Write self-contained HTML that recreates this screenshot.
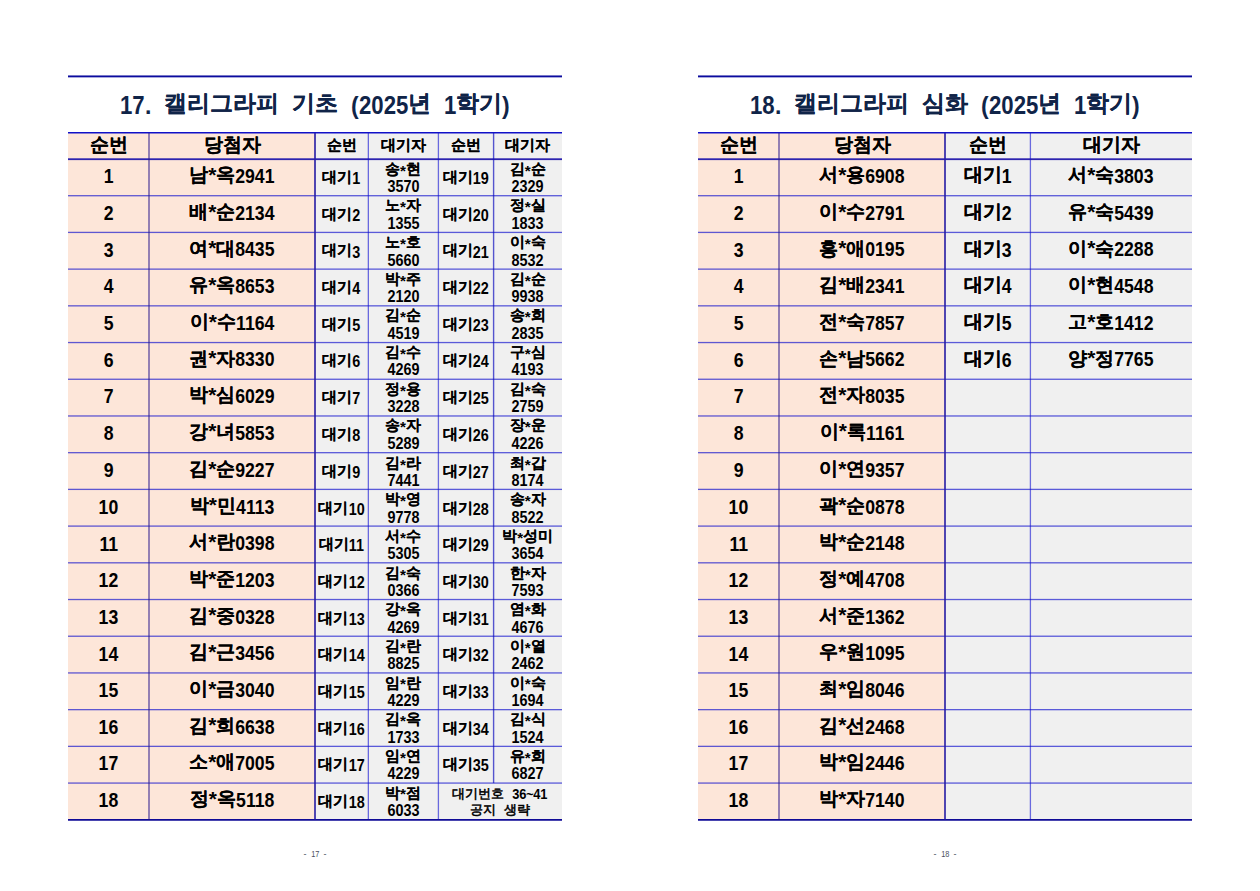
<!DOCTYPE html>
<html lang="ko"><head><meta charset="utf-8"><title>17-18</title>
<style>
html,body{margin:0;padding:0;background:#fff;}
body{width:1260px;height:891px;position:relative;overflow:hidden;font-family:"Liberation Sans",sans-serif;color:#000;}
div{position:absolute;}
.t{height:40px;display:flex;align-items:center;justify-content:center;white-space:nowrap;font-weight:bold;line-height:1;}
.t span{display:inline-block;}
i.d{display:inline-block;font-style:normal;}
i.a{font-style:normal;position:relative;top:-0.06em;font-size:1.1em;} .s i.a{top:-0.01em;font-size:1.05em;}
b.k{font-weight:bold;position:relative;-webkit-text-stroke:0.1px currentColor;}
.title{color:#102448;word-spacing:6.5px;}
.m{font-size:19px;} .m i.d{font-size:1.08em;transform:scaleX(0.86);} .m b.k{top:-0.1em;}
.h1{font-size:19px;} .h1 i.d{font-size:1.08em;transform:scaleX(0.86);} .h1 b.k{top:-0.1em;}
.h2{font-size:15px;} .h2 i.d{font-size:1.08em;transform:scaleX(0.86);} .h2 b.k{top:-0.1em;}
.s{font-size:14.5px;} .s i.d{font-size:1.08em;transform:scaleX(0.92);} .s b.k{top:-0.14em;}
.n{font-size:13px;} .n i.d{font-size:1.15em;transform:scaleX(0.86);} .n b.k{top:-0.08em;}
.title{font-size:23px;} .title i.d{font-size:1.12em;transform:scaleX(0.86);} .title b.k{top:-0.1em;}
.pn{font-size:9px;} .pn i.d{font-size:1.05em;transform:scaleX(0.78);} .pn b.k{top:-0.0em;}
.t.pn{font-weight:normal;color:#4a5060;word-spacing:2px;}
.n{word-spacing:4px;font-weight:bold;} .n b.k{font-weight:normal;-webkit-text-stroke:0.55px currentColor;}
</style></head><body>
<div style="left:68.00px;top:132.00px;width:247.00px;height:687.50px;background:#fde6d9;"></div>
<div style="left:315.00px;top:132.00px;width:247.00px;height:687.50px;background:#f0f0f0;"></div>
<div style="left:698.00px;top:132.00px;width:247.00px;height:687.50px;background:#fde6d9;"></div>
<div style="left:945.00px;top:132.00px;width:247.00px;height:687.50px;background:#f0f0f0;"></div>
<svg width="1260" height="891" viewBox="0 0 1260 891" style="position:absolute;left:0;top:0"><rect x="68.00" y="75.45" width="494.00" height="1.90" fill="rgb(12,12,158)"/><rect x="68.00" y="132.00" width="494.00" height="1.50" fill="rgb(16,16,200)"/><rect x="68.00" y="158.30" width="494.00" height="1.80" fill="rgb(45,35,175)"/><rect x="68.00" y="195.06" width="494.00" height="1.30" fill="rgba(12,12,205,0.66)"/><rect x="68.00" y="231.77" width="494.00" height="1.30" fill="rgba(12,12,205,0.66)"/><rect x="68.00" y="268.48" width="494.00" height="1.30" fill="rgba(12,12,205,0.66)"/><rect x="68.00" y="305.19" width="494.00" height="1.30" fill="rgba(12,12,205,0.66)"/><rect x="68.00" y="341.90" width="494.00" height="1.30" fill="rgba(12,12,205,0.66)"/><rect x="68.00" y="378.61" width="494.00" height="1.30" fill="rgba(12,12,205,0.66)"/><rect x="68.00" y="415.32" width="494.00" height="1.30" fill="rgba(12,12,205,0.66)"/><rect x="68.00" y="452.03" width="494.00" height="1.30" fill="rgba(12,12,205,0.66)"/><rect x="68.00" y="488.74" width="494.00" height="1.30" fill="rgba(12,12,205,0.66)"/><rect x="68.00" y="525.45" width="494.00" height="1.30" fill="rgba(12,12,205,0.66)"/><rect x="68.00" y="562.16" width="494.00" height="1.30" fill="rgba(12,12,205,0.66)"/><rect x="68.00" y="598.87" width="494.00" height="1.30" fill="rgba(12,12,205,0.66)"/><rect x="68.00" y="635.58" width="494.00" height="1.30" fill="rgba(12,12,205,0.66)"/><rect x="68.00" y="672.29" width="494.00" height="1.30" fill="rgba(12,12,205,0.66)"/><rect x="68.00" y="709.00" width="494.00" height="1.30" fill="rgba(12,12,205,0.66)"/><rect x="68.00" y="745.71" width="494.00" height="1.30" fill="rgba(12,12,205,0.66)"/><rect x="68.00" y="782.42" width="494.00" height="1.30" fill="rgba(12,12,205,0.66)"/><rect x="68.00" y="819.00" width="494.00" height="1.75" fill="rgb(15,10,150)"/><rect x="148.20" y="133.00" width="1.60" height="686.50" fill="rgba(40,25,140,0.62)"/><rect x="314.05" y="133.00" width="1.90" height="686.50" fill="rgba(40,30,165,0.85)"/><rect x="367.70" y="133.00" width="1.30" height="686.50" fill="rgba(15,15,210,0.6)"/><rect x="437.75" y="133.00" width="1.30" height="686.50" fill="rgba(15,15,210,0.6)"/><rect x="492.90" y="133.00" width="1.40" height="650.07" fill="rgba(10,10,190,0.68)"/><rect x="698.00" y="75.45" width="494.00" height="1.90" fill="rgb(12,12,158)"/><rect x="698.00" y="132.00" width="494.00" height="1.50" fill="rgb(16,16,200)"/><rect x="698.00" y="158.30" width="494.00" height="1.80" fill="rgb(45,35,175)"/><rect x="698.00" y="195.06" width="494.00" height="1.30" fill="rgba(12,12,205,0.66)"/><rect x="698.00" y="231.77" width="494.00" height="1.30" fill="rgba(12,12,205,0.66)"/><rect x="698.00" y="268.48" width="494.00" height="1.30" fill="rgba(12,12,205,0.66)"/><rect x="698.00" y="305.19" width="494.00" height="1.30" fill="rgba(12,12,205,0.66)"/><rect x="698.00" y="341.90" width="494.00" height="1.30" fill="rgba(12,12,205,0.66)"/><rect x="698.00" y="378.61" width="494.00" height="1.30" fill="rgba(12,12,205,0.66)"/><rect x="698.00" y="415.32" width="494.00" height="1.30" fill="rgba(12,12,205,0.66)"/><rect x="698.00" y="452.03" width="494.00" height="1.30" fill="rgba(12,12,205,0.66)"/><rect x="698.00" y="488.74" width="494.00" height="1.30" fill="rgba(12,12,205,0.66)"/><rect x="698.00" y="525.45" width="494.00" height="1.30" fill="rgba(12,12,205,0.66)"/><rect x="698.00" y="562.16" width="494.00" height="1.30" fill="rgba(12,12,205,0.66)"/><rect x="698.00" y="598.87" width="494.00" height="1.30" fill="rgba(12,12,205,0.66)"/><rect x="698.00" y="635.58" width="494.00" height="1.30" fill="rgba(12,12,205,0.66)"/><rect x="698.00" y="672.29" width="494.00" height="1.30" fill="rgba(12,12,205,0.66)"/><rect x="698.00" y="709.00" width="494.00" height="1.30" fill="rgba(12,12,205,0.66)"/><rect x="698.00" y="745.71" width="494.00" height="1.30" fill="rgba(12,12,205,0.66)"/><rect x="698.00" y="782.42" width="494.00" height="1.30" fill="rgba(12,12,205,0.66)"/><rect x="698.00" y="819.00" width="494.00" height="1.75" fill="rgb(15,10,150)"/><rect x="778.20" y="133.00" width="1.60" height="686.50" fill="rgba(40,25,140,0.62)"/><rect x="944.05" y="133.00" width="1.90" height="686.50" fill="rgba(40,30,165,0.85)"/><rect x="1029.75" y="133.00" width="1.30" height="686.50" fill="rgba(15,15,210,0.6)"/></svg>
<div class="t h1" style="left:68.00px;width:81.00px;top:126.25px;"><span><b class="k">순번</b></span></div>
<div class="t h1" style="left:149.00px;width:166.00px;top:126.25px;"><span><b class="k">당첨자</b></span></div>
<div class="t h2" style="left:315.00px;width:53.00px;top:126.25px;"><span><b class="k">순번</b></span></div>
<div class="t h2" style="left:368.00px;width:70.00px;top:126.25px;"><span><b class="k">대기자</b></span></div>
<div class="t h2" style="left:438.00px;width:55.50px;top:126.25px;"><span><b class="k">순번</b></span></div>
<div class="t h2" style="left:493.50px;width:68.50px;top:126.25px;"><span><b class="k">대기자</b></span></div>
<div class="t h1" style="left:698.00px;width:81.00px;top:126.25px;"><span><b class="k">순번</b></span></div>
<div class="t h1" style="left:779.00px;width:166.00px;top:126.25px;"><span><b class="k">당첨자</b></span></div>
<div class="t h1" style="left:945.00px;width:85.00px;top:126.25px;"><span><b class="k">순번</b></span></div>
<div class="t h1" style="left:1030.00px;width:162.00px;top:126.25px;"><span><b class="k">대기자</b></span></div>
<div class="t m" style="left:68.00px;width:81.00px;top:156.62px;"><span><i class="d" style="margin:0 -0.039em">1</i></span></div>
<div class="t m" style="left:149.00px;width:166.00px;top:156.62px;"><span><b class="k">남</b><i class="a">*</i><b class="k">옥</b><i class="d" style="margin:0 -0.156em">2941</i></span></div>
<div class="t s" style="left:315.00px;width:53.00px;top:159.03px;"><span><b class="k">대기</b><i class="d" style="margin:0 -0.022em">1</i></span></div>
<div class="t s" style="left:368.00px;width:70.00px;top:150.57px;"><span><b class="k">송</b><i class="a">*</i><b class="k">현</b></span></div>
<div class="t s" style="left:368.00px;width:70.00px;top:167.07px;"><span><i class="d" style="margin:0 -0.089em">3570</i></span></div>
<div class="t s" style="left:438.00px;width:55.50px;top:159.03px;"><span><b class="k">대기</b><i class="d" style="margin:0 -0.044em">19</i></span></div>
<div class="t s" style="left:493.50px;width:68.50px;top:150.57px;"><span><b class="k">김</b><i class="a">*</i><b class="k">순</b></span></div>
<div class="t s" style="left:493.50px;width:68.50px;top:167.07px;"><span><i class="d" style="margin:0 -0.089em">2329</i></span></div>
<div class="t m" style="left:68.00px;width:81.00px;top:193.28px;"><span><i class="d" style="margin:0 -0.039em">2</i></span></div>
<div class="t m" style="left:149.00px;width:166.00px;top:193.28px;"><span><b class="k">배</b><i class="a">*</i><b class="k">순</b><i class="d" style="margin:0 -0.156em">2134</i></span></div>
<div class="t s" style="left:315.00px;width:53.00px;top:195.68px;"><span><b class="k">대기</b><i class="d" style="margin:0 -0.022em">2</i></span></div>
<div class="t s" style="left:368.00px;width:70.00px;top:187.22px;"><span><b class="k">노</b><i class="a">*</i><b class="k">자</b></span></div>
<div class="t s" style="left:368.00px;width:70.00px;top:203.72px;"><span><i class="d" style="margin:0 -0.089em">1355</i></span></div>
<div class="t s" style="left:438.00px;width:55.50px;top:195.68px;"><span><b class="k">대기</b><i class="d" style="margin:0 -0.044em">20</i></span></div>
<div class="t s" style="left:493.50px;width:68.50px;top:187.22px;"><span><b class="k">정</b><i class="a">*</i><b class="k">실</b></span></div>
<div class="t s" style="left:493.50px;width:68.50px;top:203.72px;"><span><i class="d" style="margin:0 -0.089em">1833</i></span></div>
<div class="t m" style="left:68.00px;width:81.00px;top:229.93px;"><span><i class="d" style="margin:0 -0.039em">3</i></span></div>
<div class="t m" style="left:149.00px;width:166.00px;top:229.93px;"><span><b class="k">여</b><i class="a">*</i><b class="k">대</b><i class="d" style="margin:0 -0.156em">8435</i></span></div>
<div class="t s" style="left:315.00px;width:53.00px;top:232.33px;"><span><b class="k">대기</b><i class="d" style="margin:0 -0.022em">3</i></span></div>
<div class="t s" style="left:368.00px;width:70.00px;top:223.88px;"><span><b class="k">노</b><i class="a">*</i><b class="k">호</b></span></div>
<div class="t s" style="left:368.00px;width:70.00px;top:240.38px;"><span><i class="d" style="margin:0 -0.089em">5660</i></span></div>
<div class="t s" style="left:438.00px;width:55.50px;top:232.33px;"><span><b class="k">대기</b><i class="d" style="margin:0 -0.044em">21</i></span></div>
<div class="t s" style="left:493.50px;width:68.50px;top:223.88px;"><span><b class="k">이</b><i class="a">*</i><b class="k">숙</b></span></div>
<div class="t s" style="left:493.50px;width:68.50px;top:240.38px;"><span><i class="d" style="margin:0 -0.089em">8532</i></span></div>
<div class="t m" style="left:68.00px;width:81.00px;top:266.57px;"><span><i class="d" style="margin:0 -0.039em">4</i></span></div>
<div class="t m" style="left:149.00px;width:166.00px;top:266.57px;"><span><b class="k">유</b><i class="a">*</i><b class="k">옥</b><i class="d" style="margin:0 -0.156em">8653</i></span></div>
<div class="t s" style="left:315.00px;width:53.00px;top:268.97px;"><span><b class="k">대기</b><i class="d" style="margin:0 -0.022em">4</i></span></div>
<div class="t s" style="left:368.00px;width:70.00px;top:260.52px;"><span><b class="k">박</b><i class="a">*</i><b class="k">주</b></span></div>
<div class="t s" style="left:368.00px;width:70.00px;top:277.02px;"><span><i class="d" style="margin:0 -0.089em">2120</i></span></div>
<div class="t s" style="left:438.00px;width:55.50px;top:268.97px;"><span><b class="k">대기</b><i class="d" style="margin:0 -0.044em">22</i></span></div>
<div class="t s" style="left:493.50px;width:68.50px;top:260.52px;"><span><b class="k">김</b><i class="a">*</i><b class="k">순</b></span></div>
<div class="t s" style="left:493.50px;width:68.50px;top:277.02px;"><span><i class="d" style="margin:0 -0.089em">9938</i></span></div>
<div class="t m" style="left:68.00px;width:81.00px;top:303.23px;"><span><i class="d" style="margin:0 -0.039em">5</i></span></div>
<div class="t m" style="left:149.00px;width:166.00px;top:303.23px;"><span><b class="k">이</b><i class="a">*</i><b class="k">수</b><i class="d" style="margin:0 -0.156em">1164</i></span></div>
<div class="t s" style="left:315.00px;width:53.00px;top:305.62px;"><span><b class="k">대기</b><i class="d" style="margin:0 -0.022em">5</i></span></div>
<div class="t s" style="left:368.00px;width:70.00px;top:297.18px;"><span><b class="k">김</b><i class="a">*</i><b class="k">순</b></span></div>
<div class="t s" style="left:368.00px;width:70.00px;top:313.68px;"><span><i class="d" style="margin:0 -0.089em">4519</i></span></div>
<div class="t s" style="left:438.00px;width:55.50px;top:305.62px;"><span><b class="k">대기</b><i class="d" style="margin:0 -0.044em">23</i></span></div>
<div class="t s" style="left:493.50px;width:68.50px;top:297.18px;"><span><b class="k">송</b><i class="a">*</i><b class="k">희</b></span></div>
<div class="t s" style="left:493.50px;width:68.50px;top:313.68px;"><span><i class="d" style="margin:0 -0.089em">2835</i></span></div>
<div class="t m" style="left:68.00px;width:81.00px;top:339.88px;"><span><i class="d" style="margin:0 -0.039em">6</i></span></div>
<div class="t m" style="left:149.00px;width:166.00px;top:339.88px;"><span><b class="k">권</b><i class="a">*</i><b class="k">자</b><i class="d" style="margin:0 -0.156em">8330</i></span></div>
<div class="t s" style="left:315.00px;width:53.00px;top:342.27px;"><span><b class="k">대기</b><i class="d" style="margin:0 -0.022em">6</i></span></div>
<div class="t s" style="left:368.00px;width:70.00px;top:333.82px;"><span><b class="k">김</b><i class="a">*</i><b class="k">수</b></span></div>
<div class="t s" style="left:368.00px;width:70.00px;top:350.32px;"><span><i class="d" style="margin:0 -0.089em">4269</i></span></div>
<div class="t s" style="left:438.00px;width:55.50px;top:342.27px;"><span><b class="k">대기</b><i class="d" style="margin:0 -0.044em">24</i></span></div>
<div class="t s" style="left:493.50px;width:68.50px;top:333.82px;"><span><b class="k">구</b><i class="a">*</i><b class="k">심</b></span></div>
<div class="t s" style="left:493.50px;width:68.50px;top:350.32px;"><span><i class="d" style="margin:0 -0.089em">4193</i></span></div>
<div class="t m" style="left:68.00px;width:81.00px;top:376.52px;"><span><i class="d" style="margin:0 -0.039em">7</i></span></div>
<div class="t m" style="left:149.00px;width:166.00px;top:376.52px;"><span><b class="k">박</b><i class="a">*</i><b class="k">심</b><i class="d" style="margin:0 -0.156em">6029</i></span></div>
<div class="t s" style="left:315.00px;width:53.00px;top:378.92px;"><span><b class="k">대기</b><i class="d" style="margin:0 -0.022em">7</i></span></div>
<div class="t s" style="left:368.00px;width:70.00px;top:370.47px;"><span><b class="k">정</b><i class="a">*</i><b class="k">용</b></span></div>
<div class="t s" style="left:368.00px;width:70.00px;top:386.97px;"><span><i class="d" style="margin:0 -0.089em">3228</i></span></div>
<div class="t s" style="left:438.00px;width:55.50px;top:378.92px;"><span><b class="k">대기</b><i class="d" style="margin:0 -0.044em">25</i></span></div>
<div class="t s" style="left:493.50px;width:68.50px;top:370.47px;"><span><b class="k">김</b><i class="a">*</i><b class="k">숙</b></span></div>
<div class="t s" style="left:493.50px;width:68.50px;top:386.97px;"><span><i class="d" style="margin:0 -0.089em">2759</i></span></div>
<div class="t m" style="left:68.00px;width:81.00px;top:413.18px;"><span><i class="d" style="margin:0 -0.039em">8</i></span></div>
<div class="t m" style="left:149.00px;width:166.00px;top:413.18px;"><span><b class="k">강</b><i class="a">*</i><b class="k">녀</b><i class="d" style="margin:0 -0.156em">5853</i></span></div>
<div class="t s" style="left:315.00px;width:53.00px;top:415.57px;"><span><b class="k">대기</b><i class="d" style="margin:0 -0.022em">8</i></span></div>
<div class="t s" style="left:368.00px;width:70.00px;top:407.12px;"><span><b class="k">송</b><i class="a">*</i><b class="k">자</b></span></div>
<div class="t s" style="left:368.00px;width:70.00px;top:423.62px;"><span><i class="d" style="margin:0 -0.089em">5289</i></span></div>
<div class="t s" style="left:438.00px;width:55.50px;top:415.57px;"><span><b class="k">대기</b><i class="d" style="margin:0 -0.044em">26</i></span></div>
<div class="t s" style="left:493.50px;width:68.50px;top:407.12px;"><span><b class="k">장</b><i class="a">*</i><b class="k">운</b></span></div>
<div class="t s" style="left:493.50px;width:68.50px;top:423.62px;"><span><i class="d" style="margin:0 -0.089em">4226</i></span></div>
<div class="t m" style="left:68.00px;width:81.00px;top:450.52px;"><span><i class="d" style="margin:0 -0.039em">9</i></span></div>
<div class="t m" style="left:149.00px;width:166.00px;top:450.52px;"><span><b class="k">김</b><i class="a">*</i><b class="k">순</b><i class="d" style="margin:0 -0.156em">9227</i></span></div>
<div class="t s" style="left:315.00px;width:53.00px;top:452.92px;"><span><b class="k">대기</b><i class="d" style="margin:0 -0.022em">9</i></span></div>
<div class="t s" style="left:368.00px;width:70.00px;top:444.47px;"><span><b class="k">김</b><i class="a">*</i><b class="k">라</b></span></div>
<div class="t s" style="left:368.00px;width:70.00px;top:460.97px;"><span><i class="d" style="margin:0 -0.089em">7441</i></span></div>
<div class="t s" style="left:438.00px;width:55.50px;top:452.92px;"><span><b class="k">대기</b><i class="d" style="margin:0 -0.044em">27</i></span></div>
<div class="t s" style="left:493.50px;width:68.50px;top:444.47px;"><span><b class="k">최</b><i class="a">*</i><b class="k">갑</b></span></div>
<div class="t s" style="left:493.50px;width:68.50px;top:460.97px;"><span><i class="d" style="margin:0 -0.089em">8174</i></span></div>
<div class="t m" style="left:68.00px;width:81.00px;top:487.17px;"><span><i class="d" style="margin:0 -0.078em">10</i></span></div>
<div class="t m" style="left:149.00px;width:166.00px;top:487.17px;"><span><b class="k">박</b><i class="a">*</i><b class="k">민</b><i class="d" style="margin:0 -0.156em">4113</i></span></div>
<div class="t s" style="left:315.00px;width:53.00px;top:489.57px;"><span><b class="k">대기</b><i class="d" style="margin:0 -0.044em">10</i></span></div>
<div class="t s" style="left:368.00px;width:70.00px;top:481.12px;"><span><b class="k">박</b><i class="a">*</i><b class="k">영</b></span></div>
<div class="t s" style="left:368.00px;width:70.00px;top:497.62px;"><span><i class="d" style="margin:0 -0.089em">9778</i></span></div>
<div class="t s" style="left:438.00px;width:55.50px;top:489.57px;"><span><b class="k">대기</b><i class="d" style="margin:0 -0.044em">28</i></span></div>
<div class="t s" style="left:493.50px;width:68.50px;top:481.12px;"><span><b class="k">송</b><i class="a">*</i><b class="k">자</b></span></div>
<div class="t s" style="left:493.50px;width:68.50px;top:497.62px;"><span><i class="d" style="margin:0 -0.089em">8522</i></span></div>
<div class="t m" style="left:68.00px;width:81.00px;top:523.83px;"><span><i class="d" style="margin:0 -0.078em">11</i></span></div>
<div class="t m" style="left:149.00px;width:166.00px;top:523.83px;"><span><b class="k">서</b><i class="a">*</i><b class="k">란</b><i class="d" style="margin:0 -0.156em">0398</i></span></div>
<div class="t s" style="left:315.00px;width:53.00px;top:526.23px;"><span><b class="k">대기</b><i class="d" style="margin:0 -0.044em">11</i></span></div>
<div class="t s" style="left:368.00px;width:70.00px;top:517.78px;"><span><b class="k">서</b><i class="a">*</i><b class="k">수</b></span></div>
<div class="t s" style="left:368.00px;width:70.00px;top:534.28px;"><span><i class="d" style="margin:0 -0.089em">5305</i></span></div>
<div class="t s" style="left:438.00px;width:55.50px;top:526.23px;"><span><b class="k">대기</b><i class="d" style="margin:0 -0.044em">29</i></span></div>
<div class="t s" style="left:493.50px;width:68.50px;top:517.78px;"><span><b class="k">박</b><i class="a">*</i><b class="k">성미</b></span></div>
<div class="t s" style="left:493.50px;width:68.50px;top:534.28px;"><span><i class="d" style="margin:0 -0.089em">3654</i></span></div>
<div class="t m" style="left:68.00px;width:81.00px;top:560.48px;"><span><i class="d" style="margin:0 -0.078em">12</i></span></div>
<div class="t m" style="left:149.00px;width:166.00px;top:560.48px;"><span><b class="k">박</b><i class="a">*</i><b class="k">준</b><i class="d" style="margin:0 -0.156em">1203</i></span></div>
<div class="t s" style="left:315.00px;width:53.00px;top:562.88px;"><span><b class="k">대기</b><i class="d" style="margin:0 -0.044em">12</i></span></div>
<div class="t s" style="left:368.00px;width:70.00px;top:554.43px;"><span><b class="k">김</b><i class="a">*</i><b class="k">숙</b></span></div>
<div class="t s" style="left:368.00px;width:70.00px;top:570.93px;"><span><i class="d" style="margin:0 -0.089em">0366</i></span></div>
<div class="t s" style="left:438.00px;width:55.50px;top:562.88px;"><span><b class="k">대기</b><i class="d" style="margin:0 -0.044em">30</i></span></div>
<div class="t s" style="left:493.50px;width:68.50px;top:554.43px;"><span><b class="k">한</b><i class="a">*</i><b class="k">자</b></span></div>
<div class="t s" style="left:493.50px;width:68.50px;top:570.93px;"><span><i class="d" style="margin:0 -0.089em">7593</i></span></div>
<div class="t m" style="left:68.00px;width:81.00px;top:597.12px;"><span><i class="d" style="margin:0 -0.078em">13</i></span></div>
<div class="t m" style="left:149.00px;width:166.00px;top:597.12px;"><span><b class="k">김</b><i class="a">*</i><b class="k">중</b><i class="d" style="margin:0 -0.156em">0328</i></span></div>
<div class="t s" style="left:315.00px;width:53.00px;top:599.52px;"><span><b class="k">대기</b><i class="d" style="margin:0 -0.044em">13</i></span></div>
<div class="t s" style="left:368.00px;width:70.00px;top:591.08px;"><span><b class="k">강</b><i class="a">*</i><b class="k">옥</b></span></div>
<div class="t s" style="left:368.00px;width:70.00px;top:607.58px;"><span><i class="d" style="margin:0 -0.089em">4269</i></span></div>
<div class="t s" style="left:438.00px;width:55.50px;top:599.52px;"><span><b class="k">대기</b><i class="d" style="margin:0 -0.044em">31</i></span></div>
<div class="t s" style="left:493.50px;width:68.50px;top:591.08px;"><span><b class="k">염</b><i class="a">*</i><b class="k">화</b></span></div>
<div class="t s" style="left:493.50px;width:68.50px;top:607.58px;"><span><i class="d" style="margin:0 -0.089em">4676</i></span></div>
<div class="t m" style="left:68.00px;width:81.00px;top:633.78px;"><span><i class="d" style="margin:0 -0.078em">14</i></span></div>
<div class="t m" style="left:149.00px;width:166.00px;top:633.78px;"><span><b class="k">김</b><i class="a">*</i><b class="k">근</b><i class="d" style="margin:0 -0.156em">3456</i></span></div>
<div class="t s" style="left:315.00px;width:53.00px;top:636.18px;"><span><b class="k">대기</b><i class="d" style="margin:0 -0.044em">14</i></span></div>
<div class="t s" style="left:368.00px;width:70.00px;top:627.73px;"><span><b class="k">김</b><i class="a">*</i><b class="k">란</b></span></div>
<div class="t s" style="left:368.00px;width:70.00px;top:644.23px;"><span><i class="d" style="margin:0 -0.089em">8825</i></span></div>
<div class="t s" style="left:438.00px;width:55.50px;top:636.18px;"><span><b class="k">대기</b><i class="d" style="margin:0 -0.044em">32</i></span></div>
<div class="t s" style="left:493.50px;width:68.50px;top:627.73px;"><span><b class="k">이</b><i class="a">*</i><b class="k">열</b></span></div>
<div class="t s" style="left:493.50px;width:68.50px;top:644.23px;"><span><i class="d" style="margin:0 -0.089em">2462</i></span></div>
<div class="t m" style="left:68.00px;width:81.00px;top:670.43px;"><span><i class="d" style="margin:0 -0.078em">15</i></span></div>
<div class="t m" style="left:149.00px;width:166.00px;top:670.43px;"><span><b class="k">이</b><i class="a">*</i><b class="k">금</b><i class="d" style="margin:0 -0.156em">3040</i></span></div>
<div class="t s" style="left:315.00px;width:53.00px;top:672.83px;"><span><b class="k">대기</b><i class="d" style="margin:0 -0.044em">15</i></span></div>
<div class="t s" style="left:368.00px;width:70.00px;top:664.38px;"><span><b class="k">임</b><i class="a">*</i><b class="k">란</b></span></div>
<div class="t s" style="left:368.00px;width:70.00px;top:680.88px;"><span><i class="d" style="margin:0 -0.089em">4229</i></span></div>
<div class="t s" style="left:438.00px;width:55.50px;top:672.83px;"><span><b class="k">대기</b><i class="d" style="margin:0 -0.044em">33</i></span></div>
<div class="t s" style="left:493.50px;width:68.50px;top:664.38px;"><span><b class="k">이</b><i class="a">*</i><b class="k">숙</b></span></div>
<div class="t s" style="left:493.50px;width:68.50px;top:680.88px;"><span><i class="d" style="margin:0 -0.089em">1694</i></span></div>
<div class="t m" style="left:68.00px;width:81.00px;top:707.08px;"><span><i class="d" style="margin:0 -0.078em">16</i></span></div>
<div class="t m" style="left:149.00px;width:166.00px;top:707.08px;"><span><b class="k">김</b><i class="a">*</i><b class="k">희</b><i class="d" style="margin:0 -0.156em">6638</i></span></div>
<div class="t s" style="left:315.00px;width:53.00px;top:709.48px;"><span><b class="k">대기</b><i class="d" style="margin:0 -0.044em">16</i></span></div>
<div class="t s" style="left:368.00px;width:70.00px;top:701.03px;"><span><b class="k">김</b><i class="a">*</i><b class="k">옥</b></span></div>
<div class="t s" style="left:368.00px;width:70.00px;top:717.53px;"><span><i class="d" style="margin:0 -0.089em">1733</i></span></div>
<div class="t s" style="left:438.00px;width:55.50px;top:709.48px;"><span><b class="k">대기</b><i class="d" style="margin:0 -0.044em">34</i></span></div>
<div class="t s" style="left:493.50px;width:68.50px;top:701.03px;"><span><b class="k">김</b><i class="a">*</i><b class="k">식</b></span></div>
<div class="t s" style="left:493.50px;width:68.50px;top:717.53px;"><span><i class="d" style="margin:0 -0.089em">1524</i></span></div>
<div class="t m" style="left:68.00px;width:81.00px;top:743.73px;"><span><i class="d" style="margin:0 -0.078em">17</i></span></div>
<div class="t m" style="left:149.00px;width:166.00px;top:743.73px;"><span><b class="k">소</b><i class="a">*</i><b class="k">애</b><i class="d" style="margin:0 -0.156em">7005</i></span></div>
<div class="t s" style="left:315.00px;width:53.00px;top:746.12px;"><span><b class="k">대기</b><i class="d" style="margin:0 -0.044em">17</i></span></div>
<div class="t s" style="left:368.00px;width:70.00px;top:737.68px;"><span><b class="k">임</b><i class="a">*</i><b class="k">연</b></span></div>
<div class="t s" style="left:368.00px;width:70.00px;top:754.18px;"><span><i class="d" style="margin:0 -0.089em">4229</i></span></div>
<div class="t s" style="left:438.00px;width:55.50px;top:746.12px;"><span><b class="k">대기</b><i class="d" style="margin:0 -0.044em">35</i></span></div>
<div class="t s" style="left:493.50px;width:68.50px;top:737.68px;"><span><b class="k">유</b><i class="a">*</i><b class="k">희</b></span></div>
<div class="t s" style="left:493.50px;width:68.50px;top:754.18px;"><span><i class="d" style="margin:0 -0.089em">6827</i></span></div>
<div class="t m" style="left:68.00px;width:81.00px;top:780.38px;"><span><i class="d" style="margin:0 -0.078em">18</i></span></div>
<div class="t m" style="left:149.00px;width:166.00px;top:780.38px;"><span><b class="k">정</b><i class="a">*</i><b class="k">옥</b><i class="d" style="margin:0 -0.156em">5118</i></span></div>
<div class="t s" style="left:315.00px;width:53.00px;top:782.77px;"><span><b class="k">대기</b><i class="d" style="margin:0 -0.044em">18</i></span></div>
<div class="t s" style="left:368.00px;width:70.00px;top:774.33px;"><span><b class="k">박</b><i class="a">*</i><b class="k">점</b></span></div>
<div class="t s" style="left:368.00px;width:70.00px;top:790.83px;"><span><i class="d" style="margin:0 -0.089em">6033</i></span></div>
<div class="t n" style="left:438.00px;width:124.00px;top:774.12px;"><span><b class="k">대기번호</b> <i class="d" style="margin:0 -0.078em">36</i>~<i class="d" style="margin:0 -0.078em">41</i></span></div>
<div class="t n" style="left:438.00px;width:124.00px;top:790.62px;"><span><b class="k">공지</b> <b class="k">생략</b></span></div>
<div class="t m" style="left:698.00px;width:81.00px;top:156.62px;"><span><i class="d" style="margin:0 -0.039em">1</i></span></div>
<div class="t m" style="left:779.00px;width:166.00px;top:156.62px;"><span><b class="k">서</b><i class="a">*</i><b class="k">용</b><i class="d" style="margin:0 -0.156em">6908</i></span></div>
<div class="t m" style="left:945.00px;width:85.00px;top:156.62px;"><span><b class="k">대기</b><i class="d" style="margin:0 -0.039em">1</i></span></div>
<div class="t m" style="left:1030.00px;width:162.00px;top:156.62px;"><span><b class="k">서</b><i class="a">*</i><b class="k">숙</b><i class="d" style="margin:0 -0.156em">3803</i></span></div>
<div class="t m" style="left:698.00px;width:81.00px;top:193.28px;"><span><i class="d" style="margin:0 -0.039em">2</i></span></div>
<div class="t m" style="left:779.00px;width:166.00px;top:193.28px;"><span><b class="k">이</b><i class="a">*</i><b class="k">수</b><i class="d" style="margin:0 -0.156em">2791</i></span></div>
<div class="t m" style="left:945.00px;width:85.00px;top:193.28px;"><span><b class="k">대기</b><i class="d" style="margin:0 -0.039em">2</i></span></div>
<div class="t m" style="left:1030.00px;width:162.00px;top:193.28px;"><span><b class="k">유</b><i class="a">*</i><b class="k">숙</b><i class="d" style="margin:0 -0.156em">5439</i></span></div>
<div class="t m" style="left:698.00px;width:81.00px;top:229.93px;"><span><i class="d" style="margin:0 -0.039em">3</i></span></div>
<div class="t m" style="left:779.00px;width:166.00px;top:229.93px;"><span><b class="k">홍</b><i class="a">*</i><b class="k">애</b><i class="d" style="margin:0 -0.156em">0195</i></span></div>
<div class="t m" style="left:945.00px;width:85.00px;top:229.93px;"><span><b class="k">대기</b><i class="d" style="margin:0 -0.039em">3</i></span></div>
<div class="t m" style="left:1030.00px;width:162.00px;top:229.93px;"><span><b class="k">이</b><i class="a">*</i><b class="k">숙</b><i class="d" style="margin:0 -0.156em">2288</i></span></div>
<div class="t m" style="left:698.00px;width:81.00px;top:266.57px;"><span><i class="d" style="margin:0 -0.039em">4</i></span></div>
<div class="t m" style="left:779.00px;width:166.00px;top:266.57px;"><span><b class="k">김</b><i class="a">*</i><b class="k">배</b><i class="d" style="margin:0 -0.156em">2341</i></span></div>
<div class="t m" style="left:945.00px;width:85.00px;top:266.57px;"><span><b class="k">대기</b><i class="d" style="margin:0 -0.039em">4</i></span></div>
<div class="t m" style="left:1030.00px;width:162.00px;top:266.57px;"><span><b class="k">이</b><i class="a">*</i><b class="k">현</b><i class="d" style="margin:0 -0.156em">4548</i></span></div>
<div class="t m" style="left:698.00px;width:81.00px;top:303.23px;"><span><i class="d" style="margin:0 -0.039em">5</i></span></div>
<div class="t m" style="left:779.00px;width:166.00px;top:303.23px;"><span><b class="k">전</b><i class="a">*</i><b class="k">숙</b><i class="d" style="margin:0 -0.156em">7857</i></span></div>
<div class="t m" style="left:945.00px;width:85.00px;top:303.23px;"><span><b class="k">대기</b><i class="d" style="margin:0 -0.039em">5</i></span></div>
<div class="t m" style="left:1030.00px;width:162.00px;top:303.23px;"><span><b class="k">고</b><i class="a">*</i><b class="k">호</b><i class="d" style="margin:0 -0.156em">1412</i></span></div>
<div class="t m" style="left:698.00px;width:81.00px;top:339.88px;"><span><i class="d" style="margin:0 -0.039em">6</i></span></div>
<div class="t m" style="left:779.00px;width:166.00px;top:339.88px;"><span><b class="k">손</b><i class="a">*</i><b class="k">남</b><i class="d" style="margin:0 -0.156em">5662</i></span></div>
<div class="t m" style="left:945.00px;width:85.00px;top:339.88px;"><span><b class="k">대기</b><i class="d" style="margin:0 -0.039em">6</i></span></div>
<div class="t m" style="left:1030.00px;width:162.00px;top:339.88px;"><span><b class="k">양</b><i class="a">*</i><b class="k">정</b><i class="d" style="margin:0 -0.156em">7765</i></span></div>
<div class="t m" style="left:698.00px;width:81.00px;top:376.52px;"><span><i class="d" style="margin:0 -0.039em">7</i></span></div>
<div class="t m" style="left:779.00px;width:166.00px;top:376.52px;"><span><b class="k">전</b><i class="a">*</i><b class="k">자</b><i class="d" style="margin:0 -0.156em">8035</i></span></div>
<div class="t m" style="left:698.00px;width:81.00px;top:413.18px;"><span><i class="d" style="margin:0 -0.039em">8</i></span></div>
<div class="t m" style="left:779.00px;width:166.00px;top:413.18px;"><span><b class="k">이</b><i class="a">*</i><b class="k">록</b><i class="d" style="margin:0 -0.156em">1161</i></span></div>
<div class="t m" style="left:698.00px;width:81.00px;top:450.52px;"><span><i class="d" style="margin:0 -0.039em">9</i></span></div>
<div class="t m" style="left:779.00px;width:166.00px;top:450.52px;"><span><b class="k">이</b><i class="a">*</i><b class="k">연</b><i class="d" style="margin:0 -0.156em">9357</i></span></div>
<div class="t m" style="left:698.00px;width:81.00px;top:487.17px;"><span><i class="d" style="margin:0 -0.078em">10</i></span></div>
<div class="t m" style="left:779.00px;width:166.00px;top:487.17px;"><span><b class="k">곽</b><i class="a">*</i><b class="k">순</b><i class="d" style="margin:0 -0.156em">0878</i></span></div>
<div class="t m" style="left:698.00px;width:81.00px;top:523.83px;"><span><i class="d" style="margin:0 -0.078em">11</i></span></div>
<div class="t m" style="left:779.00px;width:166.00px;top:523.83px;"><span><b class="k">박</b><i class="a">*</i><b class="k">순</b><i class="d" style="margin:0 -0.156em">2148</i></span></div>
<div class="t m" style="left:698.00px;width:81.00px;top:560.48px;"><span><i class="d" style="margin:0 -0.078em">12</i></span></div>
<div class="t m" style="left:779.00px;width:166.00px;top:560.48px;"><span><b class="k">정</b><i class="a">*</i><b class="k">예</b><i class="d" style="margin:0 -0.156em">4708</i></span></div>
<div class="t m" style="left:698.00px;width:81.00px;top:597.12px;"><span><i class="d" style="margin:0 -0.078em">13</i></span></div>
<div class="t m" style="left:779.00px;width:166.00px;top:597.12px;"><span><b class="k">서</b><i class="a">*</i><b class="k">준</b><i class="d" style="margin:0 -0.156em">1362</i></span></div>
<div class="t m" style="left:698.00px;width:81.00px;top:633.78px;"><span><i class="d" style="margin:0 -0.078em">14</i></span></div>
<div class="t m" style="left:779.00px;width:166.00px;top:633.78px;"><span><b class="k">우</b><i class="a">*</i><b class="k">원</b><i class="d" style="margin:0 -0.156em">1095</i></span></div>
<div class="t m" style="left:698.00px;width:81.00px;top:670.43px;"><span><i class="d" style="margin:0 -0.078em">15</i></span></div>
<div class="t m" style="left:779.00px;width:166.00px;top:670.43px;"><span><b class="k">최</b><i class="a">*</i><b class="k">임</b><i class="d" style="margin:0 -0.156em">8046</i></span></div>
<div class="t m" style="left:698.00px;width:81.00px;top:707.08px;"><span><i class="d" style="margin:0 -0.078em">16</i></span></div>
<div class="t m" style="left:779.00px;width:166.00px;top:707.08px;"><span><b class="k">김</b><i class="a">*</i><b class="k">선</b><i class="d" style="margin:0 -0.156em">2468</i></span></div>
<div class="t m" style="left:698.00px;width:81.00px;top:743.73px;"><span><i class="d" style="margin:0 -0.078em">17</i></span></div>
<div class="t m" style="left:779.00px;width:166.00px;top:743.73px;"><span><b class="k">박</b><i class="a">*</i><b class="k">임</b><i class="d" style="margin:0 -0.156em">2446</i></span></div>
<div class="t m" style="left:698.00px;width:81.00px;top:780.38px;"><span><i class="d" style="margin:0 -0.078em">18</i></span></div>
<div class="t m" style="left:779.00px;width:166.00px;top:780.38px;"><span><b class="k">박</b><i class="a">*</i><b class="k">자</b><i class="d" style="margin:0 -0.156em">7140</i></span></div>
<div class="t title" style="left:68.00px;width:494.00px;top:85.50px;"><span><i class="d" style="margin:0 -0.078em">17</i>. <b class="k">캘리그라피</b> <b class="k">기초</b> (<i class="d" style="margin:0 -0.156em">2025</i><b class="k">년</b> <i class="d" style="margin:0 -0.039em">1</i><b class="k">학기</b>)</span></div>
<div class="t title" style="left:698.00px;width:494.00px;top:85.50px;"><span><i class="d" style="margin:0 -0.078em">18</i>. <b class="k">캘리그라피</b> <b class="k">심화</b> (<i class="d" style="margin:0 -0.156em">2025</i><b class="k">년</b> <i class="d" style="margin:0 -0.039em">1</i><b class="k">학기</b>)</span></div>
<div class="t pn" style="left:265.00px;width:100.00px;top:833.80px;"><span>- <i class="d" style="margin:0 -0.122em">17</i> -</span></div>
<div class="t pn" style="left:895.00px;width:100.00px;top:833.80px;"><span>- <i class="d" style="margin:0 -0.122em">18</i> -</span></div>
</body></html>
